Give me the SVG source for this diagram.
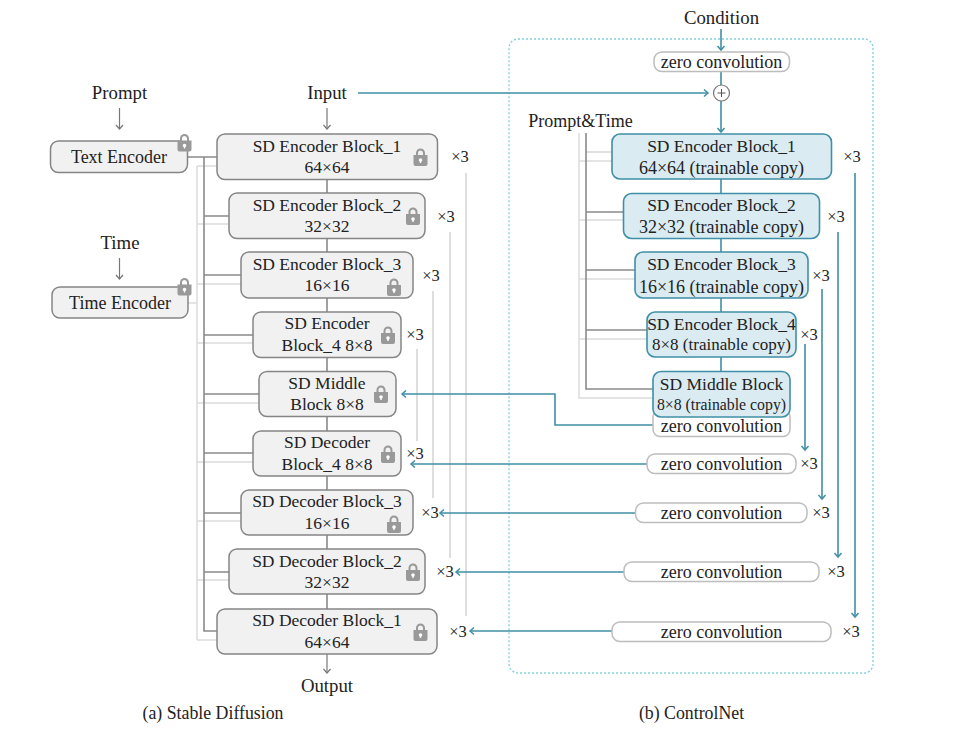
<svg xmlns="http://www.w3.org/2000/svg" width="971" height="729" viewBox="0 0 971 729">
<style>
text{font-family:"Liberation Serif","Times New Roman",serif;font-size:17.500px;fill:#222;text-anchor:middle}
.x{font-size:16.500px}
.c,.z text,.e{font-size:18px}
.c4{font-size:17px}
.p{font-size:18.800px}
.cap{font-size:17.800px}
.sm{font-size:15.800px}
.g rect{fill:#f1f1f1;stroke:#858585;stroke-width:1.5}
.b rect{fill:#daecf2;stroke:#3f8fa6;stroke-width:1.6}
.z rect{fill:#fff;stroke:#bdbdbd;stroke-width:1.5}
.d{fill:none;stroke:#8a8a8a;stroke-width:1.6}
.l{fill:none;stroke:#dcdcdc;stroke-width:1.5}
.s{fill:none;stroke:#d4d4d4;stroke-width:1.5}
.t{fill:none;stroke:#3f8fa6;stroke-width:1.6}
.ta{fill:none;stroke:#3f8fa6;stroke-width:1.6;marker-end:url(#at)}
.ga{fill:none;stroke:#777;stroke-width:1.2;marker-end:url(#ag)}
.lock{fill:#999}
</style>
<defs>
<marker id="at" markerUnits="userSpaceOnUse" markerWidth="10" markerHeight="10" refX="7" refY="5" orient="auto"><path d="M3 1.500L7 5L3 8.500" fill="none" stroke="#3f8fa6" stroke-width="1.500"/></marker>
<marker id="ag" markerUnits="userSpaceOnUse" markerWidth="10" markerHeight="10" refX="7" refY="5" orient="auto"><path d="M3 1.500L7 5L3 8.500" fill="none" stroke="#777" stroke-width="1.200"/></marker>
<symbol id="lk" viewBox="0 0 14 18" width="14" height="18" overflow="visible"><path class="lock" d="M2.500 7V5a4.500 4.500 0 0 1 9 0V7H14V16a2 2 0 0 1-2 2H2a2 2 0 0 1-2-2V7ZM4.500 7H9.500V5a2.500 2.500 0 0 0-5 0Z" fill-rule="evenodd"/><circle cx="7" cy="12" r="1.800" fill="#fff"/><rect x="6.300" y="12" width="1.400" height="3" fill="#fff"/></symbol>
</defs>

<rect id="controlnet-frame" x="509" y="39" width="364" height="634" rx="9" fill="none" stroke="#7fd0dc" stroke-width="1.300" stroke-dasharray="2 2"/>

<g id="connectors">
<path class="l" d="M197 166V640M188 303H197M197 166H217M197 224H229M197 284H241M197 343H253M197 403H259M197 462H253M197 521H241M197 580H229M197 640H217"/>
<path class="d" d="M188 157H217M204 157V631H217M204 216H229M204 275H241M204 335H253M204 394H259M204 453H253M204 513H241M204 572H229"/>
<path class="d" d="M327 179V193M327 238V252M327 298V312M327 357V371M327 416V431M327 476V490M327 535V549M327 594V609"/>
<path class="s" d="M466 173V616M450 232V558M433 291V498M417 349V441"/>
<path class="l" d="M579 133V398H653M579 161H612M579 220H624M579 279H635M579 339H647"/>
<path class="s" d="M586 152H612"/>
<path class="d" d="M586 133V389H653M586 212H624M586 270H635M586 330H647"/>
<path class="t" d="M721 179V193M721 239V252M721 298V312M721 357V371"/>
<path class="ta" d="M721 29V50"/>
<path class="t" d="M721 72V85"/>
<path class="ta" d="M721 101V132"/>
<path class="ta" d="M358 93H708"/>
<path class="ta" d="M653 425H555V394H402"/>
<path class="ta" d="M647 464H411"/>
<path class="ta" d="M635 513H440"/>
<path class="ta" d="M624 572H456"/>
<path class="ta" d="M612 631H470"/>
<path class="ta" d="M855 173V617"/>
<path class="ta" d="M838 232V557"/>
<path class="ta" d="M822 289V499"/>
<path class="ta" d="M805 344V450"/>
<path class="ga" d="M119.500 108V129"/>
<path class="ga" d="M119.500 258V279"/>
<path class="ga" d="M327 108V129"/>
<path class="ga" d="M327 654V673"/>
</g>

<g id="text-encoder" class="g"><rect x="50.500" y="141" width="137" height="31.500" rx="8"/><text class="e" x="119" y="162.500">Text Encoder</text><use href="#lk" x="177.500" y="133.500"/></g>
<g id="time-encoder" class="g"><rect x="52" y="287" width="136" height="31" rx="8"/><text class="e" x="120" y="308.500">Time Encoder</text><use href="#lk" x="177.500" y="277.500"/></g>

<g id="enc1" class="g"><rect x="217" y="134" width="220.500" height="45.500" rx="8"/><text x="327" y="152">SD Encoder Block_1</text><text x="327" y="173">64×64</text><use href="#lk" x="413.500" y="148"/></g>
<g id="enc2" class="g"><rect x="229" y="193" width="196" height="45.500" rx="8"/><text x="327" y="211">SD Encoder Block_2</text><text x="327" y="232">32×32</text><use href="#lk" x="406" y="207"/></g>
<g id="enc3" class="g"><rect x="241" y="252" width="172" height="46" rx="8"/><text x="327" y="270">SD Encoder Block_3</text><text x="327" y="291">16×16</text><use href="#lk" x="387" y="278"/></g>
<g id="enc4" class="g"><rect x="253" y="312" width="148" height="45.500" rx="8"/><text x="327" y="329">SD Encoder</text><text x="327" y="351">Block_4 8×8</text><use href="#lk" x="381" y="326"/></g>
<g id="mid" class="g"><rect x="259" y="371.500" width="137" height="45" rx="8"/><text x="327" y="389">SD Middle</text><text x="327" y="410">Block 8×8</text><use href="#lk" x="374" y="385"/></g>
<g id="dec4" class="g"><rect x="253" y="431" width="148" height="45" rx="8"/><text x="327" y="448">SD Decoder</text><text x="327" y="470">Block_4 8×8</text><use href="#lk" x="381" y="445"/></g>
<g id="dec3" class="g"><rect x="241" y="490" width="172" height="45" rx="8"/><text x="327" y="507">SD Decoder Block_3</text><text x="327" y="529">16×16</text><use href="#lk" x="387" y="515"/></g>
<g id="dec2" class="g"><rect x="229" y="549" width="196" height="45" rx="8"/><text x="327" y="567">SD Decoder Block_2</text><text x="327" y="588">32×32</text><use href="#lk" x="406" y="563"/></g>
<g id="dec1" class="g"><rect x="217" y="609" width="220" height="45" rx="8"/><text x="327" y="626">SD Decoder Block_1</text><text x="327" y="648">64×64</text><use href="#lk" x="413.500" y="623"/></g>

<g id="zc-mid" class="z"><rect x="653" y="410" width="137" height="26.500" rx="7"/><text x="721.500" y="431.500">zero convolution</text></g>
<g id="zc-top" class="z"><rect x="654" y="52" width="135.500" height="19.500" rx="8"/><text x="721.500" y="67.500">zero convolution</text></g>
<g id="zc4" class="z"><rect x="647" y="454" width="149" height="19.500" rx="8"/><text x="721.500" y="469.500">zero convolution</text></g>
<g id="zc3" class="z"><rect x="635.500" y="503" width="171.500" height="19.500" rx="8"/><text x="721.500" y="518.500">zero convolution</text></g>
<g id="zc2" class="z"><rect x="624" y="562" width="195" height="19.500" rx="8"/><text x="721.500" y="577.500">zero convolution</text></g>
<g id="zc1" class="z"><rect x="612" y="622" width="219" height="19.500" rx="8"/><text x="721.500" y="637.500">zero convolution</text></g>

<g id="cenc1" class="b"><rect x="612" y="134" width="219.500" height="45" rx="8"/><text x="721.500" y="152">SD Encoder Block_1</text><text class="c" x="721.500" y="173.500">64×64 (trainable copy)</text></g>
<g id="cenc2" class="b"><rect x="623.500" y="193.500" width="196" height="45" rx="8"/><text x="721.500" y="211">SD Encoder Block_2</text><text class="c" x="721.500" y="232.500">32×32 (trainable copy)</text></g>
<g id="cenc3" class="b"><rect x="635" y="252" width="173" height="46" rx="8"/><text x="721.500" y="270">SD Encoder Block_3</text><text class="c" x="721.500" y="292.500">16×16 (trainable copy)</text></g>
<g id="cenc4" class="b"><rect x="647" y="312" width="149" height="45" rx="8"/><text x="721.500" y="330">SD Encoder Block_4</text><text class="c4" x="721.500" y="350">8×8 (trainable copy)</text></g>
<g id="cmid" class="b"><rect x="653" y="371.500" width="137" height="45.500" rx="8"/><text x="721.500" y="390">SD Middle Block</text><text class="sm" x="721.500" y="410">8×8 (trainable copy)</text></g>

<g id="add"><circle cx="721.500" cy="93" r="8" fill="#fff" stroke="#777" stroke-width="1.200"/><path d="M717.500 93H725.500M721.500 89V97" stroke="#555" stroke-width="1" fill="none"/></g>

<g id="labels">
<text class="p" x="119.500" y="98.500">Prompt</text><text class="p" x="327" y="98.500">Input</text><text class="p" x="120" y="248.500">Time</text><text class="p" x="721.500" y="23.500">Condition</text><text class="e" x="580.500" y="126.500">Prompt&amp;Time</text><text class="p" x="327" y="691.500">Output</text>
<text class="cap" x="213" y="718.500">(a) Stable Diffusion</text><text class="cap" x="691.500" y="718.500">(b) ControlNet</text>
<g><text class="x" x="460" y="162">×3</text><text class="x" x="446" y="222">×3</text><text class="x" x="431" y="281">×3</text><text class="x" x="415" y="340">×3</text><text class="x" x="415" y="459">×3</text><text class="x" x="430" y="518">×3</text><text class="x" x="445" y="577">×3</text><text class="x" x="458" y="637">×3</text>
<text class="x" x="852" y="162">×3</text><text class="x" x="836" y="222">×3</text><text class="x" x="821" y="281">×3</text><text class="x" x="809" y="340">×3</text><text class="x" x="809" y="469">×3</text><text class="x" x="821" y="518">×3</text><text class="x" x="836" y="577">×3</text><text class="x" x="851" y="637">×3</text></g>
</g>
</svg>
